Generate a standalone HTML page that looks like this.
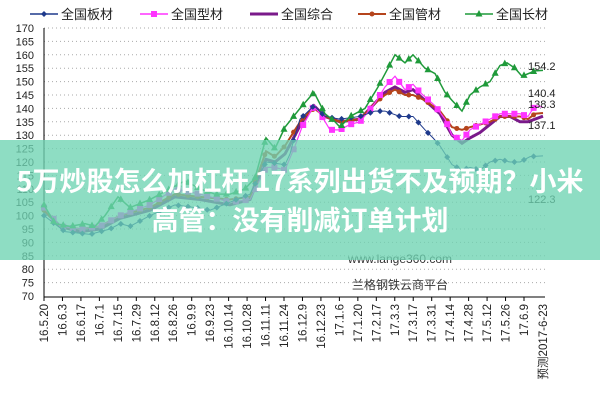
<!DOCTYPE html>
<html><head><meta charset="utf-8"><style>
body{margin:0;width:600px;height:400px;overflow:hidden;background:#fff;font-family:"Liberation Sans","Noto Sans CJK SC",sans-serif;}
svg{position:absolute;left:0;top:0}
.band{position:absolute;left:0;top:140px;width:600px;height:120px;background:rgba(110,212,178,0.78);}
.bt{position:absolute;left:0;width:600px;text-align:center;color:#fff;font-weight:bold;font-size:27px;font-family:"Noto Sans CJK SC",sans-serif;}
</style></head><body>
<svg id="s" width="600" height="400" xmlns="http://www.w3.org/2000/svg"></svg>
<div class="band"></div>
<div class="bt" style="top:160px;">5万炒股怎么加杠杆 17系列出货不及预期？小米</div>
<div class="bt" style="top:199px;">高管：没有削减订单计划</div>
<script>
const s=document.getElementById('s');let h='';
const Y=v=>296-(v-70)*2.68;
for(let v=70;v<=170;v+=5){const y=Y(v);if(v>70)h+=`<line x1="44" x2="545" y1="${y}" y2="${y}" stroke="#aaa" stroke-dasharray="1,3"/>`;
h+=`<text x="34" y="${y+4}" font-size="11" text-anchor="end" fill="#222">${v}</text>`;}
h+=`<line x1="44" x2="44" y1="28" y2="297" stroke="#000"/><line x1="44" x2="545" y1="297" y2="297" stroke="#000"/>`;
const labs=["16.5.20","16.6.3","16.6.17","16.7.1","16.7.15","16.7.29","16.8.12","16.8.26","16.9.9","16.9.23","16.10.14","16.10.28","16.11.11","16.11.24","16.12.9","16.12.23","17.1.6","17.1.20","17.2.17","17.3.3","17.3.17","17.3.31","17.4.14","17.4.28","17.5.12","17.5.26","17.6.9"];
labs.forEach((l,i)=>{const x=44+i*(480/26);h+=`<line x1="${x}" x2="${x}" y1="297" y2="301" stroke="#000"/><text transform="translate(${x+4},304) rotate(-90)" font-size="11.5" text-anchor="end" fill="#222">${l}</text>`;});
h+=`<text transform="translate(547,304) rotate(-90)" font-size="11.5" text-anchor="end" fill="#222">预测2017-6-23</text>`;
h+=`<text x="400" y="263" font-size="12" text-anchor="middle" fill="#333">www.lange360.com</text><text x="400" y="289" font-size="12" text-anchor="middle" fill="#333">兰格钢铁云商平台</text>`;
const S={
g:[[44,104],[55,97],[70,96],[85,97],[95,96],[105,100],[118,107],[130,103],[150,106],[170,110],[185,113],[200,110],[215,108],[230,108],[245,110],[255,114],[266,129],[275,125],[285,133],[300,140],[314,146],[325,138],[335,135],[340,133],[350,137],[365,140],[378,148],[388,155],[395,160],[405,157],[413,160],[425,155],[435,153],[445,146],[452,143],[462,139],[470,145],[480,148],[490,150],[500,156],[507,157],[515,155],[522,152],[535,154],[543,154.2]],
m:[[44,103],[60,96],[80,95],[100,96],[120,100],[150,104],[175,110],[200,108],[230,105],[250,106],[266,118],[275,118],[285,117],[295,126],[302,133],[314,141],[322,137],[330,132],[340,132],[350,134],[360,135],[375,142],[385,148],[395,152],[405,147],[413,149],[420,146],[435,141],[445,136],[452,130],[462,128],[470,132],[480,134],[490,136],[500,138],[510,138],[520,138],[528,137],[535,141],[543,140.4]],
p:[[44,102],[60,96],[80,94],[100,95],[120,99],[150,102],[175,107],[200,106],[230,104],[250,106],[266,121],[275,120],[285,123],[295,130],[302,135],[314,141],[325,137],[340,135],[360,136],[375,142],[385,146],[395,148],[405,146],[413,147],[425,143],[440,138],[452,130],[462,127],[470,129],[480,131],[490,134],[500,137],[510,137],[520,135],[528,135],[535,136],[543,137.1]],
b:[[44,102],[60,96],[80,95],[100,96],[120,100],[150,103],[175,108],[200,107],[230,106],[250,107],[266,124],[275,122],[285,126],[295,132],[302,136],[314,140],[325,137],[340,135],[360,136],[375,142],[385,145],[395,147],[405,145],[413,145],[425,143],[440,139],[452,133],[462,132],[470,133],[480,134],[490,135],[500,137],[510,137],[520,137],[528,136],[535,138],[543,138.3]],
n:[[44,100],[65,94],[90,93],[110,95],[120,97],[130,96],[150,100],[175,104],[195,103],[210,102],[230,105],[250,108],[266,120],[285,119],[290,123],[295,130],[300,136],[314,141],[325,137],[340,136],[360,137],[375,139],[385,139],[400,137],[413,137],[425,132],[433,129],[440,126],[452,119],[462,117],[470,118],[480,117],[490,120],[500,121],[510,120],[520,120],[530,122],[543,122.3]]};
const st={n:['#1f3a8c',1,'d'],m:['#ff33ff',1.2,'s'],p:['#7a1a8a',3,''],b:['#b5441c',2,'c'],g:['#1f9a3a',1.5,'t']};
function mk(t,x,y,c){if(t=='d')return `<path d="M${x} ${y-3}L${x+3} ${y}L${x} ${y+3}L${x-3} ${y}Z" fill="${c}"/>`;
if(t=='s')return `<rect x="${x-3}" y="${y-3}" width="6" height="6" fill="${c}"/>`;
if(t=='c')return `<circle cx="${x}" cy="${y}" r="2.5" fill="${c}"/>`;
if(t=='t')return `<path d="M${x} ${y-4}L${x+3.5} ${y+2.5}L${x-3.5} ${y+2.5}Z" fill="${c}"/>`;return '';}
['p','b','m','n','g'].forEach(k=>{const [c,w,t]=st[k];const pts=S[k];
h+=`<polyline fill="none" stroke="${c}" stroke-width="${w}" points="${pts.map(p=>p[0]+','+Y(p[1])).join(' ')}"/>`;
if(t){for(let x=44;x<=543;x+=9.6){let i=0;while(i<pts.length-2&&pts[i+1][0]<x)i++;const a=pts[i],b=pts[i+1];const v=a[1]+(b[1]-a[1])*(x-a[0])/(b[0]-a[0]);h+=mk(t,x,Y(v),c);}}});
h+=`<text x="528" y="70" font-size="11" fill="#222">154.2</text><text x="528" y="97" font-size="11" fill="#222">140.4</text><text x="528" y="108" font-size="11" fill="#222">138.3</text><text x="528" y="129" font-size="11" fill="#222">137.1</text><text x="528" y="203" font-size="11" fill="#222">122.3</text>`;
const L=[['n',30,'全国板材'],['m',140,'全国型材'],['p',250,'全国综合'],['b',358,'全国管材'],['g',465,'全国长材']];
L.forEach(([k,x,t])=>{const [c,w,m]=st[k];h+=`<line x1="${x}" x2="${x+28}" y1="14" y2="14" stroke="${c}" stroke-width="${Math.max(w,1.5)}"/>`+mk(m,x+14,14,c)+`<text x="${x+31}" y="19" font-size="13" fill="#222">${t}</text>`;});
s.innerHTML=h;
</script>
</body></html>
